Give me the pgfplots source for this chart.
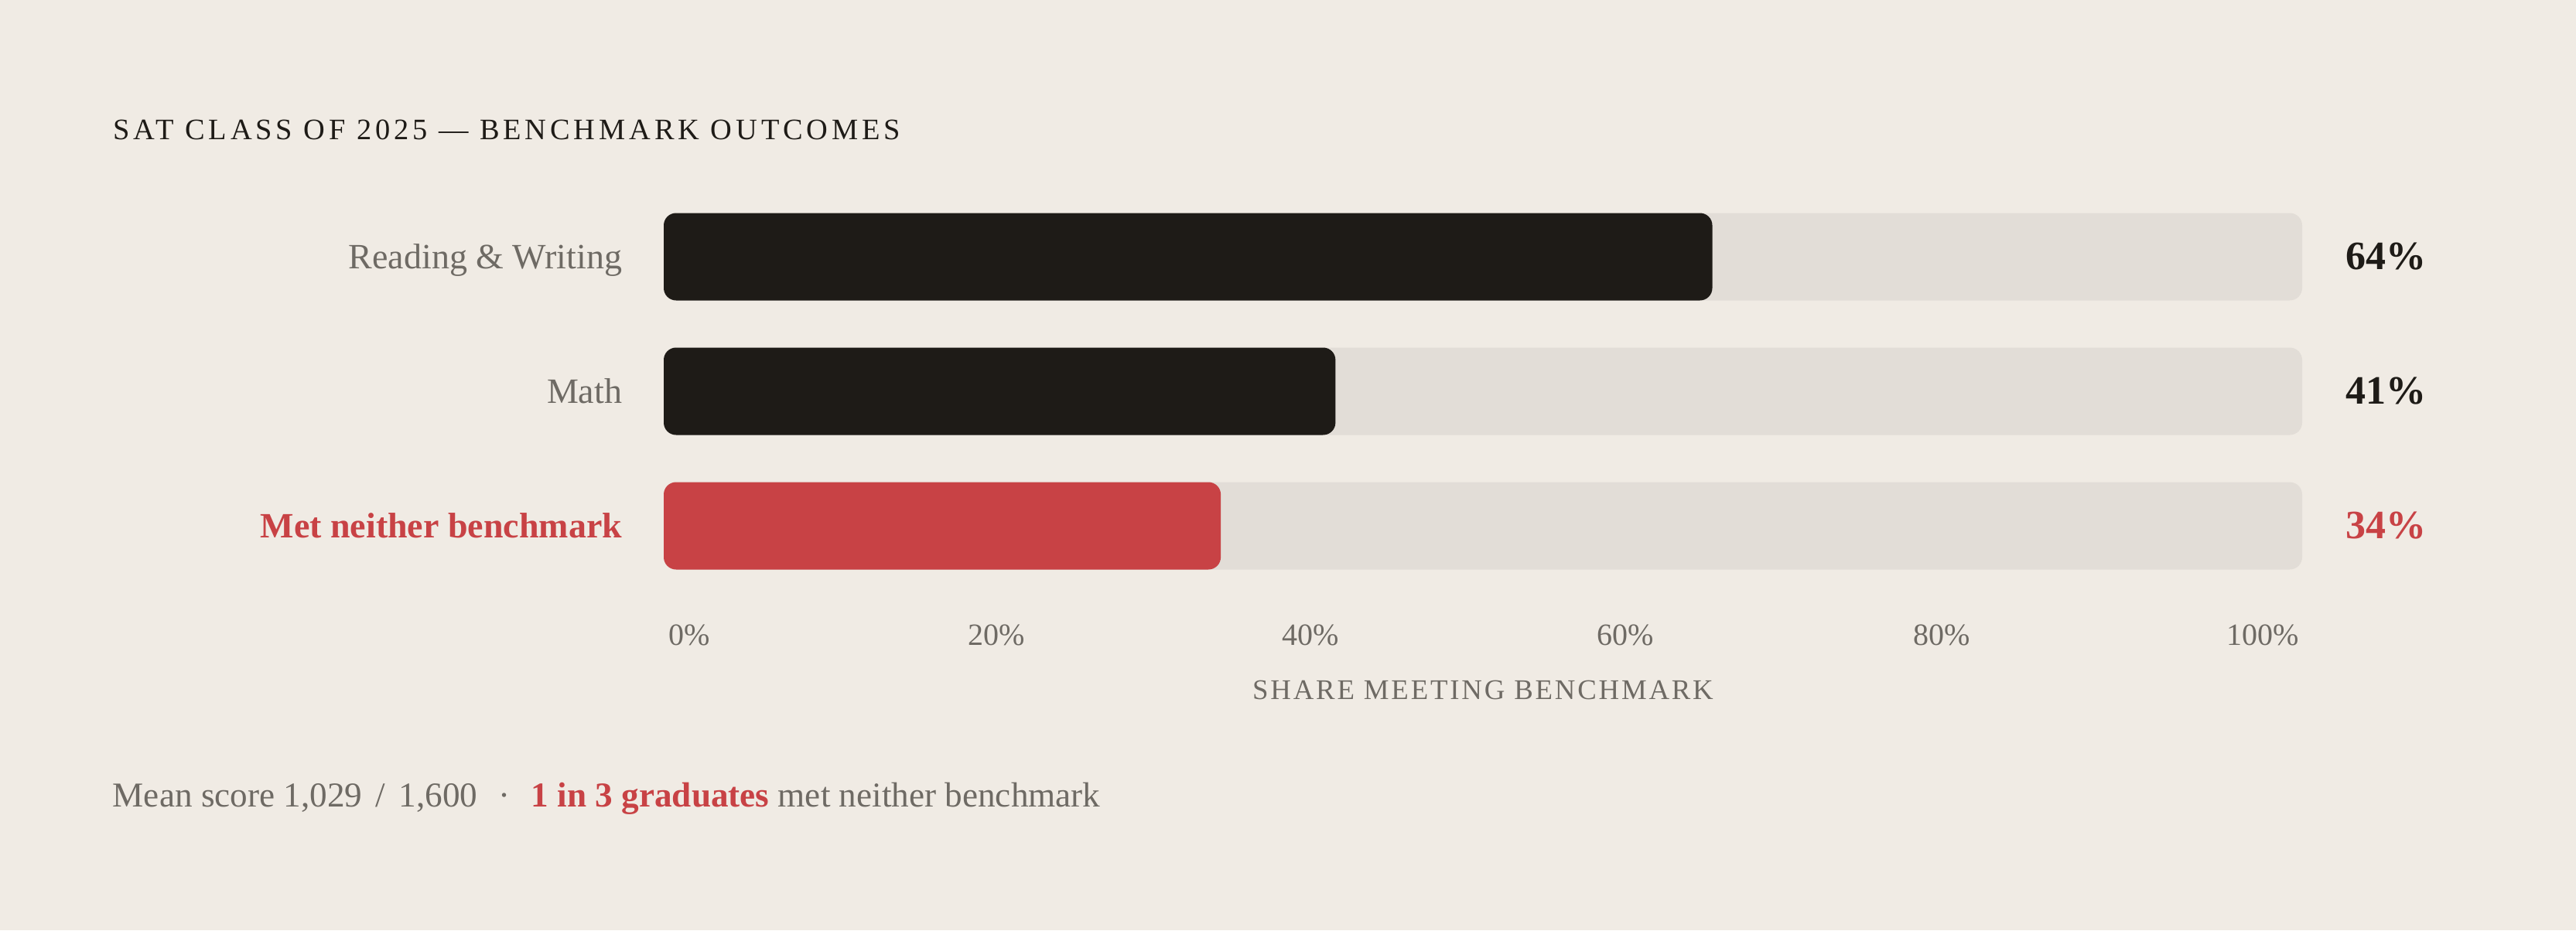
\documentclass[border=0pt]{standalone}
\usepackage{pgfplots}
\pgfplotsset{compat=1.18}
\usepackage{fontspec}
\setmainfont{Liberation Serif}
\definecolor{bg}{HTML}{F0EBE4}
\definecolor{track}{HTML}{E2DDD7}
\definecolor{ink}{HTML}{1E1B17}
\definecolor{accent}{HTML}{C84245}
\definecolor{muted}{HTML}{6E6A64}
\begin{document}
\begin{tikzpicture}
\path[use as bounding box, fill=bg] (0,0) rectangle (832.5pt,300.75pt);
\node[anchor=base west, inner sep=0pt, text=ink, font=\fontsize{9.6}{11}\selectfont\addfontfeature{LetterSpace=12.7}] at (36.5pt,255.75pt) {SAT CLASS OF 2025 — BENCHMARK OUTCOMES};
\begin{axis}[
  at={(214.5pt,98.125pt)}, anchor=south west,
  scale only axis, width=529.5pt, height=152.25pt,
  xmin=0, xmax=100, ymin=-0.75, ymax=2.75,
  xbar, bar width=28.25pt, bar shift=0pt,
  axis line style={draw=none}, major tick length=0pt,
  xtick={1.56,20.3,39.5,58.7,78.0,97.6},
  xticklabels={0\%,20\%,40\%,60\%,80\%,100\%},
  xticklabel style={anchor=base, yshift=-6.1pt, inner sep=0pt, text=muted, font=\fontsize{10}{12}\selectfont},
  ytick={0,1,2},
  yticklabels={{\textbf{\textcolor{accent}{Met neither benchmark}}},Math,{Reading \& Writing}},
  yticklabel style={anchor=base east, xshift=-13.25pt, yshift=-3.75pt, inner sep=0pt, text=muted, font=\fontsize{11.5}{13}\selectfont},
  xlabel={SHARE MEETING BENCHMARK},
  xlabel style={at={(axis description cs:0.5,0)}, anchor=base, yshift=-23.4pt, inner sep=0pt, text=muted, font=\fontsize{9.2}{11}\selectfont\addfontfeature{LetterSpace=7.6}},
  clip=false,
]
\addplot[fill=track, draw=none, rounded corners=4pt] coordinates {(100,0) (100,1) (100,2)};
\addplot[fill=ink, draw=none, rounded corners=4pt] coordinates {(64,2) (41,1)};
\addplot[fill=accent, draw=none, rounded corners=4pt] coordinates {(34,0)};
\node[anchor=base west, inner sep=0pt, xshift=14pt, yshift=-4.2pt, text=ink, font=\bfseries\fontsize{13}{15}\selectfont] at (axis cs:100,2) {64\%};
\node[anchor=base west, inner sep=0pt, xshift=14pt, yshift=-4.2pt, text=ink, font=\bfseries\fontsize{13}{15}\selectfont] at (axis cs:100,1) {41\%};
\node[anchor=base west, inner sep=0pt, xshift=14pt, yshift=-4.2pt, text=accent, font=\bfseries\fontsize{13}{15}\selectfont] at (axis cs:100,0) {34\%};
\end{axis}
\node[anchor=base west, inner sep=0pt, text=muted, font=\fontsize{11.3}{13}\selectfont] at (36.25pt,40pt) {Mean score 1,029\hspace{1.5pt} / \hspace{1.5pt}1,600\hspace{4pt} · \hspace{4pt}\textcolor{accent}{\textbf{1 in 3 graduates}} met neither benchmark};
\end{tikzpicture}
\end{document}
